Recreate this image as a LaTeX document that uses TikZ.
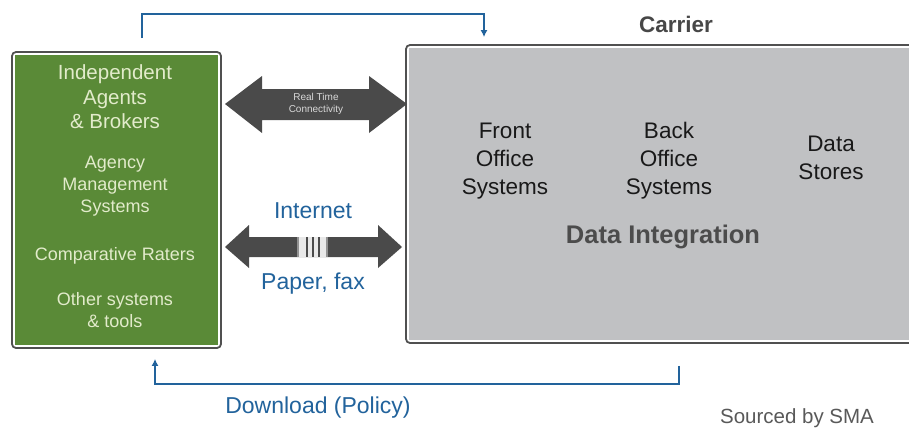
\documentclass[tikz,border=0pt]{standalone}
\usepackage{fontspec}
\setmainfont{Liberation Sans}
\usetikzlibrary{arrows.meta}
\definecolor{agentgreen}{HTML}{5A8A37}
\definecolor{boxline}{HTML}{505050}
\definecolor{carriergray}{HTML}{C0C1C3}
\definecolor{arrowdark}{HTML}{4A4A4A}
\definecolor{linkblue}{HTML}{22639C}
\definecolor{paletext}{HTML}{E2EBCB}
\definecolor{stripelight}{HTML}{D8D8D8}
\tikzset{
  outerbox/.style={draw=boxline, line width=1.8pt, fill=white, rounded corners=4pt, inner sep=0pt},
  greentext/.style={text=paletext, align=center, inner sep=0pt},
  carriertext/.style={text=black!90, align=center, inner sep=0pt, font=\fontsize{22.5}{28}\selectfont},
  bluetext/.style={text=linkblue, inner sep=0pt, font=\fontsize{23}{27}\selectfont},
  conn/.style={draw=linkblue, line width=2.4pt, -{Latex[length=7pt,width=7pt]}},
}
\begin{document}
\begin{tikzpicture}[x=1pt,y=-1pt]
\useasboundingbox (0,0) rectangle (909,428);
\clip (0,0) rectangle (909,428);
\fill[white] (0,0) rectangle (909,428);

% agents box
\node[outerbox, minimum width=209pt, minimum height=296pt] (agents) at (116.5,200) {};
\fill[agentgreen] ([xshift=3.5pt,yshift=-3.5pt]agents.north west) rectangle ([xshift=-3.5pt,yshift=3.5pt]agents.south east);

% carrier box
\node[outerbox, minimum width=508pt, minimum height=298pt] (carrier) at (660,194) {};
\fill[carriergray] ([xshift=3.5pt,yshift=-3.5pt]carrier.north west) rectangle ([xshift=-3.5pt,yshift=3.5pt]carrier.south east);

% texts in agents box
\node[greentext, font=\fontsize{20.5}{24.5}\selectfont] (iab) at (115,97) {Independent\\Agents\\\& Brokers};
\node[greentext, font=\fontsize{18}{22}\selectfont] (ams) at (115,186) {Agency\\Management\\Systems};
\node[greentext, font=\fontsize{18}{22}\selectfont] (cr) at (115,256) {Comparative Raters};
\node[greentext, font=\fontsize{18}{21.5}\selectfont] (ost) at (115,310) {Other systems\\\& tools};

% texts in carrier box
\node[carriertext] (fos) at (505,161) {Front\\Office\\Systems};
\node[carriertext] (bos) at (669,161) {Back\\Office\\Systems};
\node[carriertext] (ds) at (831,158) {Data\\Stores};
\node[text=black!70, inner sep=0pt, font=\bfseries\fontsize{25.5}{30}\selectfont] (di) at (663,237) {Data Integration};
\node[text=black!72, inner sep=0pt, font=\bfseries\fontsize{22.5}{26}\selectfont] (carlabel) at (676,24) {Carrier};

% real time connectivity double arrow
\fill[arrowdark] (225,104) -- (262,76) -- (262,89) -- (369,89) -- (369,76) -- (407,104)
  -- (369,133) -- (369,120) -- (262,120) -- (262,133) -- cycle;
\node[text=stripelight, align=center, inner sep=0pt, font=\fontsize{10}{12}\selectfont] (rtc) at (316,104) {Real Time\\Connectivity};

% internet double arrow
\fill[arrowdark] (225,247) -- (249,225) -- (249,237) -- (378,237) -- (378,225) -- (402,247)
  -- (378,268) -- (378,257) -- (249,257) -- (249,268) -- cycle;
\fill[stripelight!60!white] (297,237) rectangle (328,257);
\fill[arrowdark] (305.5,237) rectangle (308,257);
\fill[arrowdark] (311.5,237) rectangle (314,257);
\fill[arrowdark] (317.5,237) rectangle (320,257);
\fill[arrowdark!60!white] (297,237) rectangle (299,257);
\fill[arrowdark!60!white] (326,237) rectangle (328,257);
\node[bluetext] (inet) at (313,211) {Internet};
\node[bluetext] (paper) at (313,284) {Paper, fax};

% connectors
\draw[conn] ([xshift=25.5pt,yshift=13pt]agents.north) -- ++(0,-24) -| ([xshift=-176pt,yshift=7pt]carrier.north);
\draw[conn] ([xshift=19pt,yshift=-22pt]carrier.south) -- ++(0,18) -| ([xshift=38.5pt,yshift=-10pt]agents.south);

\node[bluetext] (dl) at (318,408) {Download (Policy)};
\node[text=black!65, inner sep=0pt, font=\fontsize{20.5}{24}\selectfont] (src) at (797,418) {Sourced by SMA};
\end{tikzpicture}
\end{document}
